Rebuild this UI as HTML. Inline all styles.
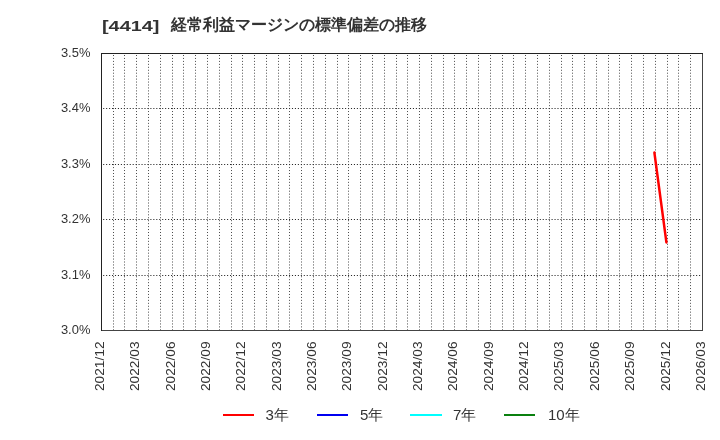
<!DOCTYPE html>
<html><head><meta charset="utf-8">
<style>
html,body{margin:0;padding:0;background:#fff;}
body{width:720px;height:440px;overflow:hidden;position:relative;font-family:"Liberation Sans",sans-serif;}
svg{position:absolute;left:0;top:0;will-change:transform;}
.t{font-family:"Liberation Sans",sans-serif;}
</style></head><body>
<svg width="720" height="440" viewBox="0 0 720 440">
<rect x="0" y="0" width="720" height="440" fill="#fff"/>
<text class="t" x="102" y="30.8" font-size="15.5" font-weight="bold" fill="#333" textLength="57.5" lengthAdjust="spacingAndGlyphs">[4414]</text>
<text class="t" x="170.5" y="30" font-size="16" font-weight="bold" fill="#333">経常利益マージンの標準偏差の推移</text>
<g stroke="#4a4a4a" stroke-width="1" stroke-dasharray="1,1.95" stroke-dashoffset="1.95" fill="none">
<line x1="113.5" y1="54" x2="113.5" y2="330"/>
<line x1="124.5" y1="54" x2="124.5" y2="330"/>
<line x1="136.5" y1="54" x2="136.5" y2="330"/>
<line x1="148.5" y1="54" x2="148.5" y2="330"/>
<line x1="160.5" y1="54" x2="160.5" y2="330"/>
<line x1="172.5" y1="54" x2="172.5" y2="330"/>
<line x1="183.5" y1="54" x2="183.5" y2="330"/>
<line x1="195.5" y1="54" x2="195.5" y2="330"/>
<line x1="207.5" y1="54" x2="207.5" y2="330"/>
<line x1="219.5" y1="54" x2="219.5" y2="330"/>
<line x1="231.5" y1="54" x2="231.5" y2="330"/>
<line x1="242.5" y1="54" x2="242.5" y2="330"/>
<line x1="254.5" y1="54" x2="254.5" y2="330"/>
<line x1="266.5" y1="54" x2="266.5" y2="330"/>
<line x1="278.5" y1="54" x2="278.5" y2="330"/>
<line x1="289.5" y1="54" x2="289.5" y2="330"/>
<line x1="301.5" y1="54" x2="301.5" y2="330"/>
<line x1="313.5" y1="54" x2="313.5" y2="330"/>
<line x1="325.5" y1="54" x2="325.5" y2="330"/>
<line x1="337.5" y1="54" x2="337.5" y2="330"/>
<line x1="348.5" y1="54" x2="348.5" y2="330"/>
<line x1="360.5" y1="54" x2="360.5" y2="330"/>
<line x1="372.5" y1="54" x2="372.5" y2="330"/>
<line x1="384.5" y1="54" x2="384.5" y2="330"/>
<line x1="396.5" y1="54" x2="396.5" y2="330"/>
<line x1="407.5" y1="54" x2="407.5" y2="330"/>
<line x1="419.5" y1="54" x2="419.5" y2="330"/>
<line x1="431.5" y1="54" x2="431.5" y2="330"/>
<line x1="443.5" y1="54" x2="443.5" y2="330"/>
<line x1="454.5" y1="54" x2="454.5" y2="330"/>
<line x1="466.5" y1="54" x2="466.5" y2="330"/>
<line x1="478.5" y1="54" x2="478.5" y2="330"/>
<line x1="490.5" y1="54" x2="490.5" y2="330"/>
<line x1="502.5" y1="54" x2="502.5" y2="330"/>
<line x1="513.5" y1="54" x2="513.5" y2="330"/>
<line x1="525.5" y1="54" x2="525.5" y2="330"/>
<line x1="537.5" y1="54" x2="537.5" y2="330"/>
<line x1="549.5" y1="54" x2="549.5" y2="330"/>
<line x1="561.5" y1="54" x2="561.5" y2="330"/>
<line x1="572.5" y1="54" x2="572.5" y2="330"/>
<line x1="584.5" y1="54" x2="584.5" y2="330"/>
<line x1="596.5" y1="54" x2="596.5" y2="330"/>
<line x1="608.5" y1="54" x2="608.5" y2="330"/>
<line x1="619.5" y1="54" x2="619.5" y2="330"/>
<line x1="631.5" y1="54" x2="631.5" y2="330"/>
<line x1="643.5" y1="54" x2="643.5" y2="330"/>
<line x1="655.5" y1="54" x2="655.5" y2="330"/>
<line x1="667.5" y1="54" x2="667.5" y2="330"/>
<line x1="678.5" y1="54" x2="678.5" y2="330"/>
<line x1="690.5" y1="54" x2="690.5" y2="330"/>
</g>
<g stroke="#2a2a2a" stroke-width="1" stroke-dasharray="1.1,1.85" stroke-dashoffset="1.8" fill="none">
<line x1="102" y1="275.5" x2="701" y2="275.5"/>
<line x1="102" y1="219.5" x2="701" y2="219.5"/>
<line x1="102" y1="164.5" x2="701" y2="164.5"/>
<line x1="102" y1="108.5" x2="701" y2="108.5"/>
</g>
<g stroke-width="1" fill="none" shape-rendering="crispEdges">
<line x1="702.5" y1="53" x2="702.5" y2="331" stroke="#444"/>
<line x1="101" y1="330.5" x2="703" y2="330.5" stroke="#444"/>
<line x1="101.5" y1="53" x2="101.5" y2="331" stroke="#222"/>
<line x1="101" y1="53.5" x2="703" y2="53.5" stroke="#222"/>
</g>
<polyline points="654.4,152.6 666.4,242.4" stroke="#ff0000" stroke-width="2.5" stroke-linecap="round" fill="none"/>
<g class="t" font-size="12" fill="#333">
<text x="90.4" y="334" text-anchor="end" font-size="12.5" textLength="29.5" lengthAdjust="spacingAndGlyphs">3.0%</text>
<text x="90.4" y="279" text-anchor="end" font-size="12.5" textLength="29.5" lengthAdjust="spacingAndGlyphs">3.1%</text>
<text x="90.4" y="223" text-anchor="end" font-size="12.5" textLength="29.5" lengthAdjust="spacingAndGlyphs">3.2%</text>
<text x="90.4" y="168" text-anchor="end" font-size="12.5" textLength="29.5" lengthAdjust="spacingAndGlyphs">3.3%</text>
<text x="90.4" y="112" text-anchor="end" font-size="12.5" textLength="29.5" lengthAdjust="spacingAndGlyphs">3.4%</text>
<text x="90.4" y="57" text-anchor="end" font-size="12.5" textLength="29.5" lengthAdjust="spacingAndGlyphs">3.5%</text>
<text transform="translate(103.90,341.5) rotate(-90)" text-anchor="end" font-size="13" textLength="49.5" lengthAdjust="spacingAndGlyphs">2021/12</text>
<text transform="translate(139.25,341.5) rotate(-90)" text-anchor="end" font-size="13" textLength="49.5" lengthAdjust="spacingAndGlyphs">2022/03</text>
<text transform="translate(174.61,341.5) rotate(-90)" text-anchor="end" font-size="13" textLength="49.5" lengthAdjust="spacingAndGlyphs">2022/06</text>
<text transform="translate(209.96,341.5) rotate(-90)" text-anchor="end" font-size="13" textLength="49.5" lengthAdjust="spacingAndGlyphs">2022/09</text>
<text transform="translate(245.31,341.5) rotate(-90)" text-anchor="end" font-size="13" textLength="49.5" lengthAdjust="spacingAndGlyphs">2022/12</text>
<text transform="translate(280.66,341.5) rotate(-90)" text-anchor="end" font-size="13" textLength="49.5" lengthAdjust="spacingAndGlyphs">2023/03</text>
<text transform="translate(316.02,341.5) rotate(-90)" text-anchor="end" font-size="13" textLength="49.5" lengthAdjust="spacingAndGlyphs">2023/06</text>
<text transform="translate(351.37,341.5) rotate(-90)" text-anchor="end" font-size="13" textLength="49.5" lengthAdjust="spacingAndGlyphs">2023/09</text>
<text transform="translate(386.72,341.5) rotate(-90)" text-anchor="end" font-size="13" textLength="49.5" lengthAdjust="spacingAndGlyphs">2023/12</text>
<text transform="translate(422.08,341.5) rotate(-90)" text-anchor="end" font-size="13" textLength="49.5" lengthAdjust="spacingAndGlyphs">2024/03</text>
<text transform="translate(457.43,341.5) rotate(-90)" text-anchor="end" font-size="13" textLength="49.5" lengthAdjust="spacingAndGlyphs">2024/06</text>
<text transform="translate(492.78,341.5) rotate(-90)" text-anchor="end" font-size="13" textLength="49.5" lengthAdjust="spacingAndGlyphs">2024/09</text>
<text transform="translate(528.14,341.5) rotate(-90)" text-anchor="end" font-size="13" textLength="49.5" lengthAdjust="spacingAndGlyphs">2024/12</text>
<text transform="translate(563.49,341.5) rotate(-90)" text-anchor="end" font-size="13" textLength="49.5" lengthAdjust="spacingAndGlyphs">2025/03</text>
<text transform="translate(598.84,341.5) rotate(-90)" text-anchor="end" font-size="13" textLength="49.5" lengthAdjust="spacingAndGlyphs">2025/06</text>
<text transform="translate(634.19,341.5) rotate(-90)" text-anchor="end" font-size="13" textLength="49.5" lengthAdjust="spacingAndGlyphs">2025/09</text>
<text transform="translate(669.55,341.5) rotate(-90)" text-anchor="end" font-size="13" textLength="49.5" lengthAdjust="spacingAndGlyphs">2025/12</text>
<text transform="translate(704.90,341.5) rotate(-90)" text-anchor="end" font-size="13" textLength="49.5" lengthAdjust="spacingAndGlyphs">2026/03</text>
</g>
<g stroke-width="2" shape-rendering="crispEdges">
<line x1="223" y1="415" x2="254" y2="415" stroke="#ff0000"/>
<line x1="317" y1="415" x2="348" y2="415" stroke="#0000f0"/>
<line x1="410" y1="415" x2="442" y2="415" stroke="#00ffff"/>
<line x1="504" y1="415" x2="535" y2="415" stroke="#0a800f"/>
</g>
<g class="t" font-size="15" fill="#333">
<text x="265.5" y="420">3年</text>
<text x="360" y="420">5年</text>
<text x="453" y="420">7年</text>
<text x="548" y="420">10年</text>
</g>
</svg>
</body></html>
